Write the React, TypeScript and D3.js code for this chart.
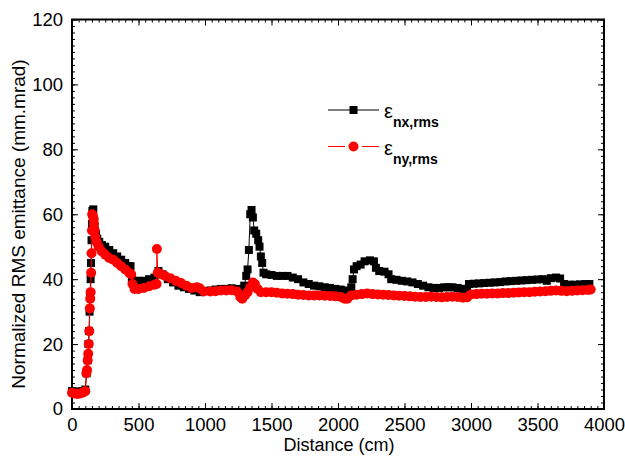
import React, { useEffect, useRef } from 'react';
import * as d3 from 'd3';

// distance (cm) and normalized rms emittance (mm.mrad)
const nxDist = [0, 20, 40, 60, 80, 100, 110, 118, 124, 128, 132, 136, 140, 143, 147, 150, 153, 160, 167, 172, 180, 190, 205, 225, 250, 280, 310, 340, 370, 400, 425, 440, 450, 470, 500, 540, 580, 620, 650, 680, 720, 760, 800, 840, 880, 920, 960, 1000, 1040, 1080, 1120, 1160, 1200, 1240, 1270, 1295, 1310, 1320, 1330, 1340, 1350, 1360, 1370, 1385, 1400, 1410, 1420, 1430, 1440, 1460, 1500, 1540, 1580, 1620, 1660, 1700, 1740, 1780, 1820, 1860, 1900, 1940, 1980, 2020, 2060, 2085, 2100, 2110, 2120, 2140, 2170, 2200, 2240, 2270, 2285, 2310, 2350, 2380, 2400, 2440, 2480, 2520, 2560, 2600, 2640, 2680, 2720, 2760, 2800, 2830, 2860, 2900, 2940, 2970, 2985, 3020, 3060, 3100, 3140, 3180, 3220, 3260, 3300, 3340, 3380, 3420, 3460, 3500, 3540, 3570, 3600, 3640, 3670, 3700, 3740, 3780, 3820, 3860, 3890];
const nxVals = [5.5, 5.3, 5.2, 5.4, 5.5, 6, 11, 15, 20, 24, 30, 35, 40, 45, 52, 57, 61, 61.5, 58, 55, 54, 52.5, 51.5, 50.5, 50, 49, 48, 47, 46, 45, 44, 44, 40, 39.5, 39.5, 39.5, 40, 40.5, 42.5, 41.5, 40, 39, 38, 37.5, 37, 36.5, 36, 36.3, 36.5, 36.8, 37, 37, 37.2, 37, 36.5, 38, 41, 43, 49, 60, 61.3, 59, 55, 54, 52, 50, 47, 45, 42, 41.5, 41.3, 41, 41, 41, 40.5, 40, 39, 38.5, 38, 37.8, 37.5, 37.3, 37, 36.8, 36.5, 36.3, 37.5, 40, 43, 44, 44.5, 45.5, 45.8, 45.5, 43.5, 42.5, 42.3, 41.5, 40, 39.8, 39.5, 39.3, 39, 38.5, 38, 37.5, 37.3, 37.3, 37.5, 37.5, 37.5, 37.3, 37, 37, 38.5, 38.6, 38.7, 38.8, 38.9, 39, 39.1, 39.3, 39.4, 39.5, 39.6, 39.7, 39.8, 39.9, 40, 39.5, 40.3, 40.5, 40.2, 38.5, 38.3, 38.3, 38.4, 38.5, 38.5];

const nyDist = [0, 20, 40, 60, 80, 100, 108, 113, 118, 122, 126, 130, 134, 137, 140, 144, 147, 150, 152, 157, 162, 166, 170, 175, 185, 200, 225, 250, 280, 310, 340, 370, 400, 430, 445, 455, 470, 500, 540, 580, 620, 636, 638, 645, 670, 700, 740, 780, 820, 860, 900, 940, 960, 990, 1040, 1080, 1120, 1160, 1200, 1240, 1265, 1280, 1300, 1320, 1340, 1360, 1375, 1395, 1420, 1460, 1500, 1540, 1580, 1620, 1660, 1700, 1740, 1780, 1820, 1860, 1900, 1940, 1980, 2020, 2050, 2070, 2100, 2140, 2180, 2220, 2260, 2300, 2340, 2380, 2420, 2460, 2500, 2540, 2580, 2620, 2660, 2700, 2740, 2780, 2820, 2860, 2900, 2940, 2970, 3000, 3040, 3080, 3120, 3160, 3200, 3240, 3280, 3320, 3360, 3400, 3440, 3480, 3520, 3560, 3600, 3640, 3680, 3720, 3760, 3800, 3840, 3880, 3900];
const nyVals = [5, 4.8, 4.6, 4.8, 5, 5.5, 11, 12, 15, 17, 20, 24, 31, 34, 36, 42, 48, 55, 60, 59.5, 58.5, 57, 55, 53, 51.5, 50, 48.5, 47.5, 46.5, 46, 45, 44, 43, 42, 41.5, 38.5, 37, 37, 37.3, 37.8, 38.3, 38.5, 49.3, 42, 41.5, 41, 40.3, 39.5, 38.8, 38, 37.3, 37.5, 37.2, 36.2, 36.2, 36.3, 36.5, 36.5, 36.6, 36.2, 34.5, 34, 35, 36, 37.5, 39, 38.5, 37, 36, 36, 36, 35.8, 35.6, 35.5, 35.4, 35.2, 35.1, 35, 35, 35, 34.9, 34.8, 34.7, 34.5, 34, 34, 35, 35.2, 35.4, 35.6, 35.4, 35.3, 35.2, 35.1, 35, 34.9, 34.8, 34.7, 34.6, 34.5, 34.5, 34.6, 34.5, 34.4, 34.5, 34.6, 34.5, 34.3, 34.4, 35.3, 35.4, 35.5, 35.5, 35.6, 35.6, 35.7, 35.7, 35.8, 35.9, 36, 36, 36.1, 36.2, 36.3, 36.4, 36.5, 36.4, 36.3, 36.4, 36.5, 36.6, 36.7, 36.8];

const xTicks = [0, 500, 1000, 1500, 2000, 2500, 3000, 3500, 4000];
const yTicks = [0, 20, 40, 60, 80, 100, 120];

const W = 625;
const H = 456;
const M = { left: 72, right: 21, top: 19.5, bottom: 47 };
const FONT = 'Arial, "Liberation Sans", sans-serif';

export default function App() {
  const ref = useRef<SVGSVGElement>(null);

  useEffect(() => {
    const svg = d3.select(ref.current);
    svg.selectAll('*').remove();

    const x = d3.scaleLinear().domain([0, 4000]).range([M.left, W - M.right]);
    const y = d3.scaleLinear().domain([0, 120]).range([H - M.bottom, M.top]);
    const [x0, x1] = x.range();
    const [y0, y1] = y.range();

    const xMinor = d3.range(0, 4001, 50);
    const yMinor = d3.range(0, 121, 2);

    const g = svg.append('g');

    // ticks on all four sides, pointing inward
    const tickAxis = (axis: any, tr: string, labels: boolean) => {
      const a = g.append('g').attr('transform', tr).call(axis);
      a.select('.domain').remove();
      a.selectAll('line').attr('stroke', '#000').attr('stroke-width', 1);
      if (!labels) a.selectAll('text').remove();
      return a;
    };

    tickAxis(d3.axisBottom(x).tickValues(xMinor).tickSize(-3).tickFormat(() => ''), `translate(0,${y0})`, false);
    tickAxis(d3.axisTop(x).tickValues(xMinor).tickSize(-3).tickFormat(() => ''), `translate(0,${y1})`, false);
    tickAxis(d3.axisLeft(y).tickValues(yMinor).tickSize(-3).tickFormat(() => ''), `translate(${x0},0)`, false);
    tickAxis(d3.axisRight(y).tickValues(yMinor).tickSize(-3).tickFormat(() => ''), `translate(${x1},0)`, false);

    const bx = tickAxis(d3.axisBottom(x).tickValues(xTicks).tickSize(-6).tickPadding(9).tickFormat(d3.format('d')), `translate(0,${y0})`, true);
    bx.selectAll('text').attr('font-family', FONT).attr('font-size', 18.5).attr('fill', '#000');
    tickAxis(d3.axisTop(x).tickValues(xTicks).tickSize(-6), `translate(0,${y1})`, false);
    const ly = tickAxis(d3.axisLeft(y).tickValues(yTicks).tickSize(-6).tickPadding(9).tickFormat(d3.format('d')), `translate(${x0},0)`, true);
    ly.selectAll('text').attr('font-family', FONT).attr('font-size', 18.5).attr('fill', '#000');
    tickAxis(d3.axisRight(y).tickValues(yTicks).tickSize(-6), `translate(${x1},0)`, false);

    g.append('rect')
      .attr('x', x0).attr('y', y1)
      .attr('width', x1 - x0).attr('height', y0 - y1)
      .attr('fill', 'none').attr('stroke', '#000').attr('stroke-width', 2);

    const nx = nxDist.map((d, i) => [d, nxVals[i]] as [number, number]);
    const ny = nyDist.map((d, i) => [d, nyVals[i]] as [number, number]);
    const line = d3.line<[number, number]>().x(d => x(d[0])).y(d => y(d[1]));

    const plot = svg.append('g');
    plot.append('path').attr('d', line(nx)).attr('fill', 'none').attr('stroke', '#000').attr('stroke-width', 1);
    const sq = d3.symbol().type(d3.symbolSquare).size(64);
    plot.selectAll('.sq').data(nx).enter().append('path')
      .attr('d', sq)
      .attr('transform', d => `translate(${x(d[0])},${y(d[1])})`)
      .attr('fill', '#000');

    plot.append('path').attr('d', line(ny)).attr('fill', 'none').attr('stroke', '#ff0000').attr('stroke-width', 1);
    plot.selectAll('.ci').data(ny).enter().append('circle')
      .attr('cx', d => x(d[0])).attr('cy', d => y(d[1])).attr('r', 5)
      .attr('fill', '#ff0000');

    // axis titles
    svg.append('text')
      .attr('x', 339).attr('y', 451)
      .attr('text-anchor', 'middle')
      .attr('font-family', FONT).attr('font-size', 18)
      .text('Distance (cm)');
    svg.append('text')
      .attr('transform', `translate(25,224) rotate(-90)`)
      .attr('text-anchor', 'middle')
      .attr('font-family', FONT).attr('font-size', 19)
      .text('Normalized RMS emittance (mm.mrad)');

    // legend
    const leg = svg.append('g');
    const items = [
      { sub: 'nx,rms', color: '#000', yy: 110, square: true },
      { sub: 'ny,rms', color: '#ff0000', yy: 146.5, square: false },
    ];
    items.forEach(it => {
      if (it.square) {
        leg.append('line').attr('x1', 328).attr('x2', 379).attr('y1', it.yy).attr('y2', it.yy)
          .attr('stroke', it.color).attr('stroke-width', 1);
        leg.append('rect').attr('x', 349.5).attr('y', it.yy - 4).attr('width', 8).attr('height', 8).attr('fill', it.color);
      } else {
        leg.append('line').attr('x1', 328).attr('x2', 345).attr('y1', it.yy).attr('y2', it.yy)
          .attr('stroke', it.color).attr('stroke-width', 1);
        leg.append('line').attr('x1', 362).attr('x2', 379).attr('y1', it.yy).attr('y2', it.yy)
          .attr('stroke', it.color).attr('stroke-width', 1);
        leg.append('circle').attr('cx', 353.5).attr('cy', it.yy).attr('r', 5).attr('fill', it.color);
      }
      const t = leg.append('text').attr('x', 384).attr('y', it.yy + 8)
        .attr('font-family', FONT).attr('font-size', 20);
      t.append('tspan').text('ε');
      t.append('tspan').attr('dy', 9).attr('font-size', 14).attr('font-weight', 'bold').text(it.sub);
    });
  }, []);

  return (
    <div style={{ position: 'fixed', left: 0, top: 0 }}>
      <svg ref={ref} width={W} height={H} style={{ display: 'block', background: '#fff' }} />
    </div>
  );
}
